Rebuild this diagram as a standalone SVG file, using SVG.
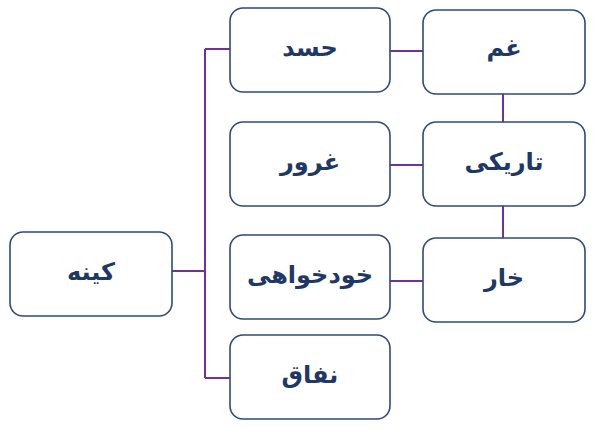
<svg xmlns="http://www.w3.org/2000/svg" width="600" height="445" viewBox="0 0 600 445">
<style>
.b{fill:#fff;stroke:#2E4A7D;stroke-width:1.6}
.t{font-family:"DejaVu Sans",sans-serif;font-weight:bold;font-size:24px;fill:#1F3864;text-anchor:middle;dominant-baseline:central}
.c{fill:none;stroke:#7030A0;stroke-width:2}
</style>
<rect width="600" height="445" fill="#fff"/>
<g id="connectors">
<path class="c" d="M155 271H205M205 49V378M205 49H249M205 378H241M390 51H423M390 165H423M390 281H423M503 94V122M503 206V238"/>
</g>
<g id="n-kine"><rect class="b" x="10" y="232" width="162" height="84" rx="13"/><text class="t" x="91" y="272" direction="rtl">کینه</text></g>
<g id="n-hasad"><rect class="b" x="230" y="8" width="160" height="84" rx="13"/><text class="t" x="310" y="48" direction="rtl">حسد</text></g>
<g id="n-ghorur"><rect class="b" x="230" y="122" width="160" height="84" rx="13"/><text class="t" x="310" y="162" direction="rtl">غرور</text></g>
<g id="n-khod"><rect class="b" x="230" y="235" width="160" height="84" rx="13"/><text class="t" x="310" y="275" direction="rtl">خودخواهی</text></g>
<g id="n-nefagh"><rect class="b" x="230" y="335" width="160" height="84" rx="13"/><text class="t" x="310" y="375" direction="rtl">نفاق</text></g>
<g id="n-gham"><rect class="b" x="423" y="10" width="162" height="84" rx="13"/><text class="t" x="504" y="48" direction="rtl">غم</text></g>
<g id="n-tariki"><rect class="b" x="423" y="122" width="162" height="84" rx="13"/><text class="t" x="504" y="162" direction="rtl">تاریکی</text></g>
<g id="n-khar"><rect class="b" x="423" y="238" width="162" height="84" rx="13"/><text class="t" x="504" y="278" direction="rtl">خار</text></g>
</svg>
